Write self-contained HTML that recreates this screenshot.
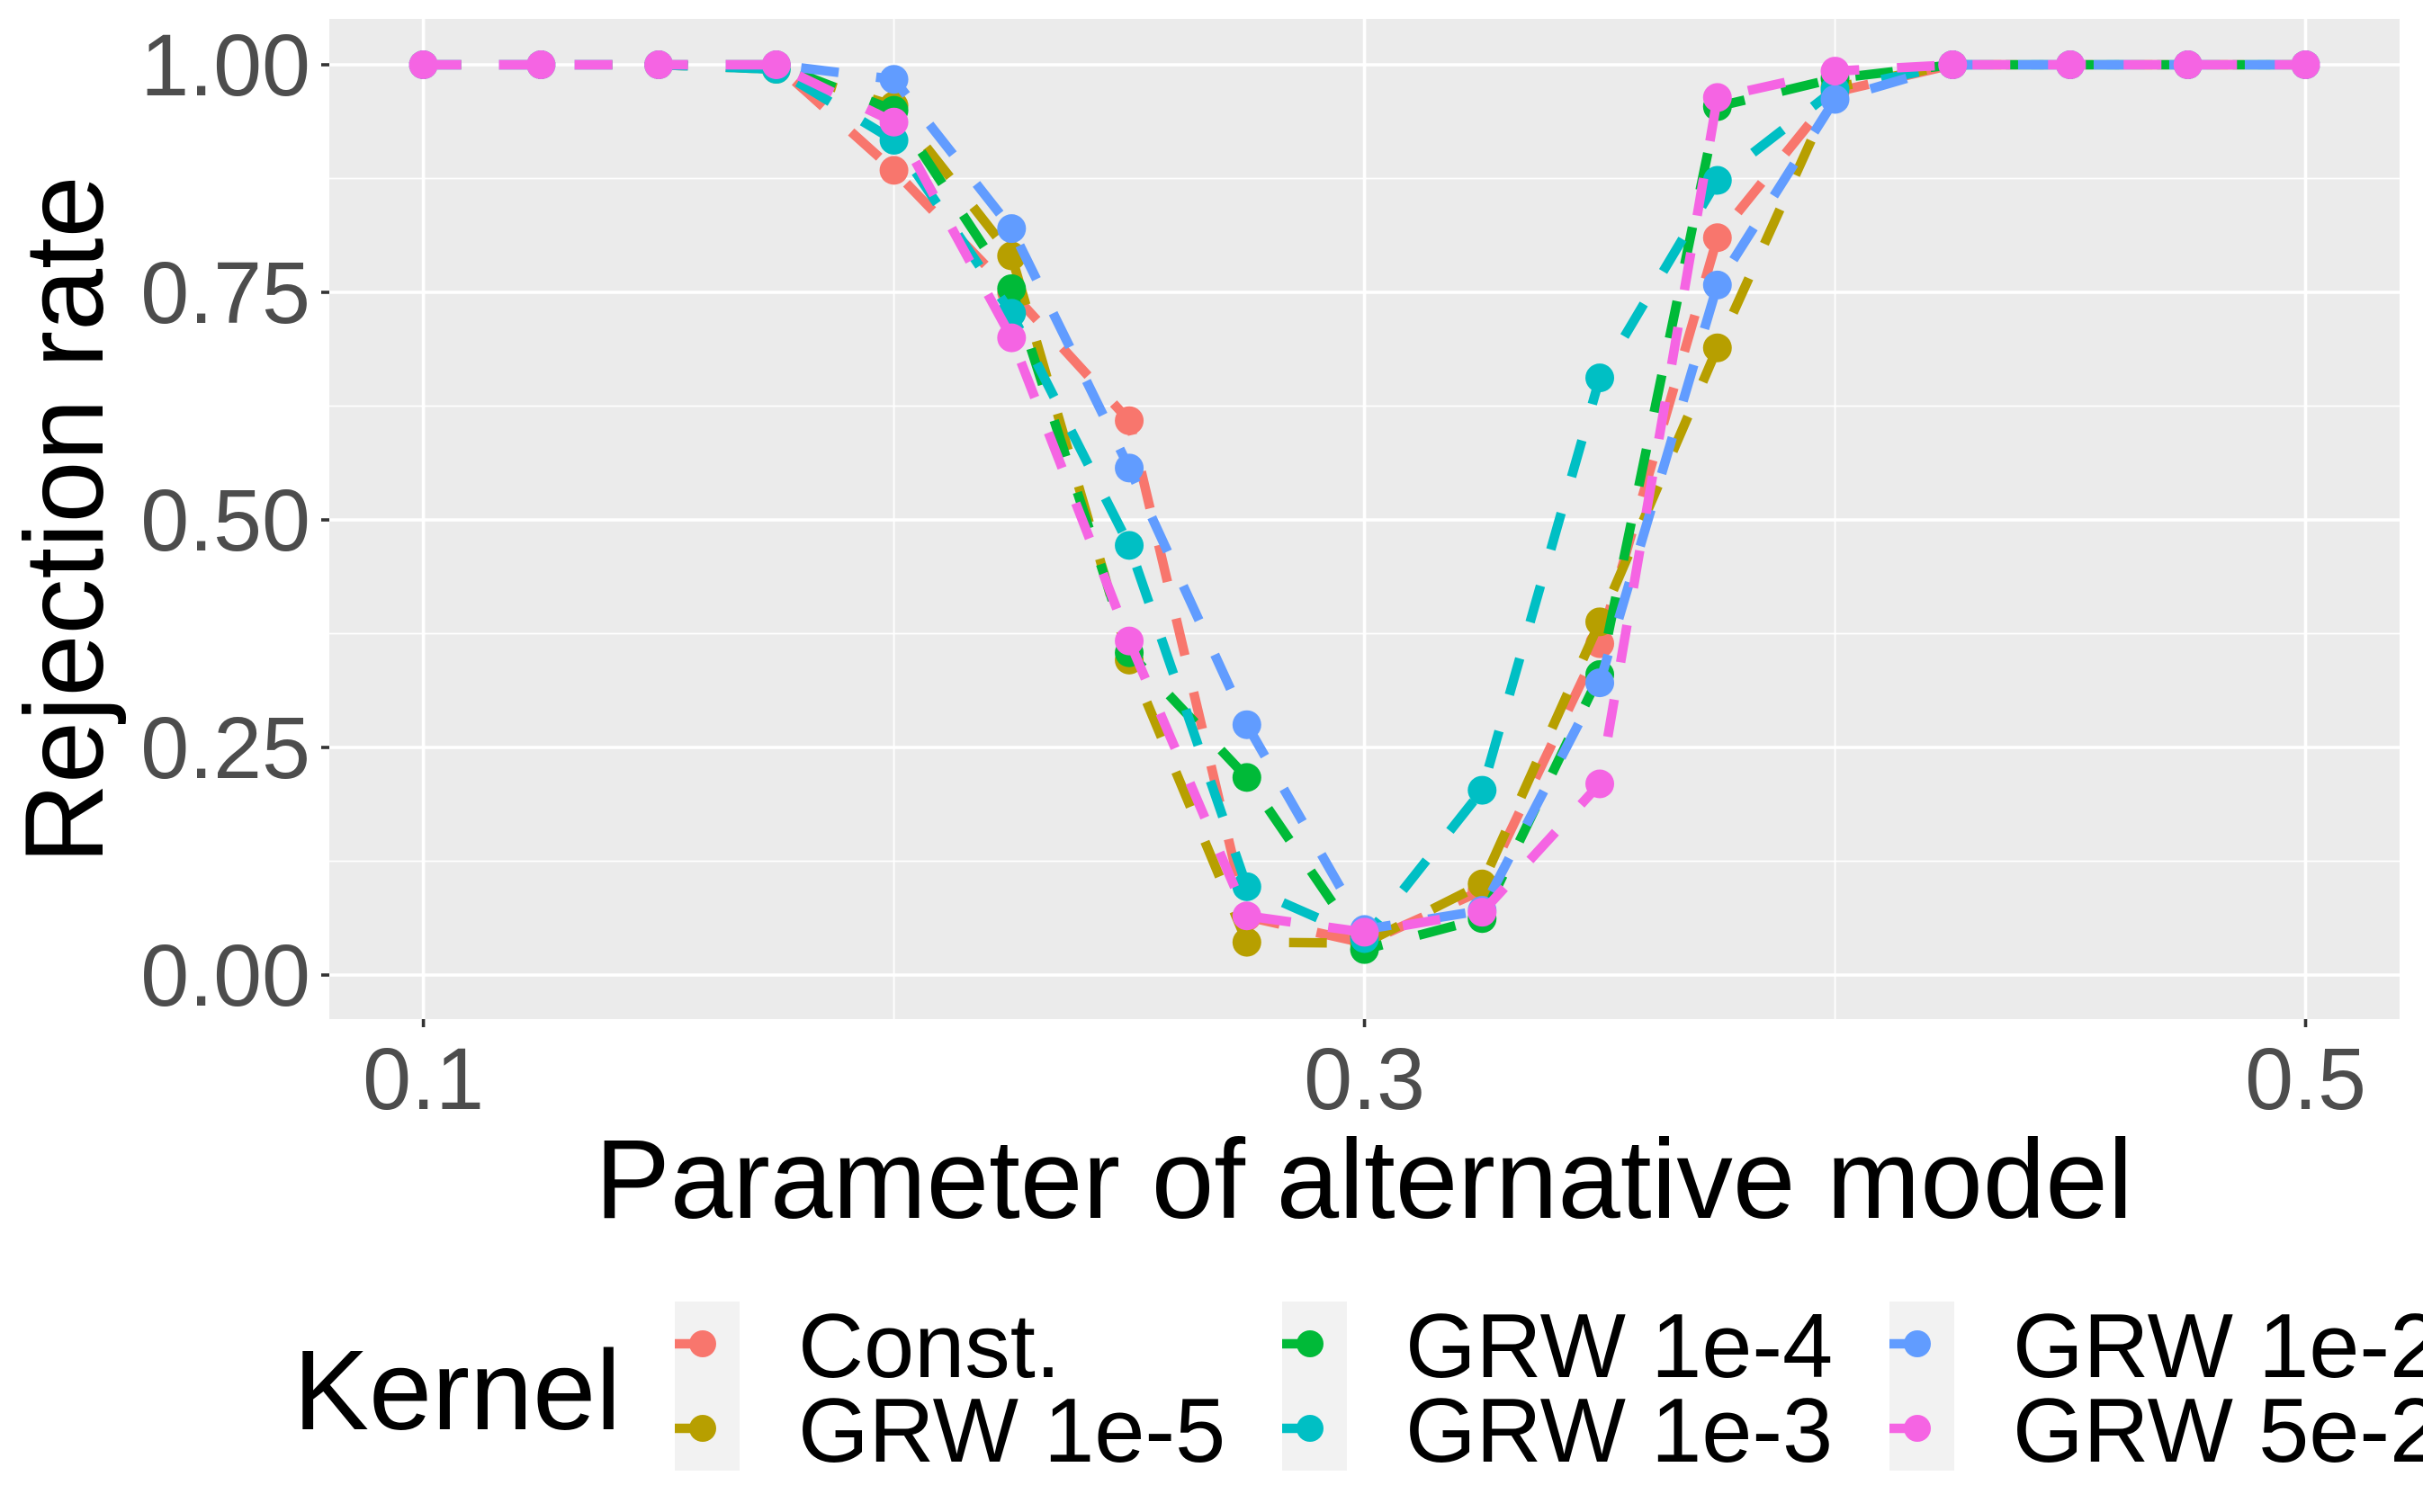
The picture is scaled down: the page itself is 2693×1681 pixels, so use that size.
<!DOCTYPE html>
<html><head><meta charset="utf-8"><style>
html,body{margin:0;padding:0;background:#fff;}
svg{display:block;font-family:"Liberation Sans",Arial,sans-serif;}
</style></head><body>
<svg id="chart" width="2693" height="1681" viewBox="0 0 2693 1681" xmlns="http://www.w3.org/2000/svg">
<rect x="366" y="21" width="2301" height="1112" fill="#EBEBEB"/>
<g id="grid"></g>
<g id="series"></g>
<g id="axes"></g>
<text x="1516" y="1354" font-size="125" text-anchor="middle" fill="#000">Parameter of alternative model</text>
<text transform="translate(114,578) rotate(-90)" font-size="124" text-anchor="middle" fill="#000">Rejection rate</text>
<text x="326" y="1589" font-size="126" fill="#000">Kernel</text>
<g id="legend"></g>
</svg>
<script>
const xs = [0.1,0.125,0.15,0.175,0.2,0.225,0.25,0.275,0.3,0.325,0.35,0.375,0.4,0.425,0.45,0.475,0.5];
const seriesNames = ["Const.","GRW 1e-5","GRW 1e-4","GRW 1e-3","GRW 1e-2","GRW 5e-2"];
const seriesColors = ["#F8766D","#B79F00","#00BA38","#00BFC4","#619CFF","#F564E3"];
const constVals = [1,1,1,1,0.884,0.75,0.609,0.064,0.035,0.093,0.364,0.81,0.97,1,1,1,1];
const grw1e5Vals = [1,1,1,0.995,0.955,0.79,0.346,0.036,0.035,0.1,0.388,0.689,0.975,1,1,1,1];
const grw1e4Vals = [1,1,1,1,0.95,0.754,0.354,0.217,0.028,0.062,0.33,0.954,0.985,1,1,1,1];
const grw1e3Vals = [1,1,1,0.995,0.917,0.727,0.472,0.097,0.04,0.203,0.656,0.873,0.973,1,1,1,1];
const grw1e2Vals = [1,1,1,1,0.984,0.82,0.557,0.275,0.05,0.071,0.321,0.758,0.962,1,1,1,1];
const grw5e2Vals = [1,1,1,1,0.937,0.7,0.367,0.065,0.047,0.069,0.21,0.964,0.993,1,1,1,1];
const yTicks = [0,0.25,0.5,0.75,1];
const yTickLabels = ["0.00","0.25","0.50","0.75","1.00"];
const xTicks = [0.1,0.3,0.5];
const xTickLabels = ["0.1","0.3","0.5"];
const yMinor = [0.125,0.375,0.625,0.875];
const xMinor = [0.2,0.4];

const NS="http://www.w3.org/2000/svg";
const X = v => 470.6 + (v-0.1)/0.4*(2562.5-470.6);
const Y = v => 1084 - v*(1084-72);
function mk(tag, attrs, parent){const e=document.createElementNS(NS,tag);for(const k in attrs)e.setAttribute(k,attrs[k]);parent.appendChild(e);return e;}
const grid=document.getElementById('grid'), axes=document.getElementById('axes'), ser=document.getElementById('series'), leg=document.getElementById('legend');
yMinor.forEach(v=>{const l=mk('line',{x1:366,x2:2667,y1:Y(v),y2:Y(v),stroke:'#fff','stroke-width':1.8},grid);

});
xMinor.forEach(v=>{const l=mk('line',{x1:X(v),x2:X(v),y1:21,y2:1133,stroke:'#fff','stroke-width':1.8},grid);

});
yTicks.forEach((v,i)=>{const l=mk('line',{x1:366,x2:2667,y1:Y(v),y2:Y(v),stroke:'#fff','stroke-width':3.6},grid);


const t=mk('line',{x1:357,x2:366,y1:Y(v),y2:Y(v),stroke:'#333','stroke-width':3.6},axes);


const tx=mk('text',{x:345,y:Y(v)+34,'font-size':97,'text-anchor':'end',fill:'#4D4D4D'},axes);tx.textContent=yTickLabels[i];

});
xTicks.forEach((v,i)=>{const l=mk('line',{x1:X(v),x2:X(v),y1:21,y2:1133,stroke:'#fff','stroke-width':3.6},grid);


const t=mk('line',{x1:X(v),x2:X(v),y1:1133,y2:1142,stroke:'#333','stroke-width':3.6},axes);


const tx=mk('text',{x:X(v),y:1233,'font-size':97,'text-anchor':'middle',fill:'#4D4D4D'},axes);tx.textContent=xTickLabels[i];

});
const allVals=[constVals,grw1e5Vals,grw1e4Vals,grw1e3Vals,grw1e2Vals,grw5e2Vals];
allVals.forEach((vals,si)=>{
  const g=mk('g',{},ser);
  
  
  const pts=vals.map((v,i)=>X(xs[i])+','+Y(v)).join(' ');
  const pl=mk('polyline',{points:pts,fill:'none',stroke:seriesColors[si],'stroke-width':10.5,'stroke-dasharray':'42 42'},g);
  
  
  vals.forEach((v,i)=>{const c=mk('circle',{cx:X(xs[i]),cy:Y(v),r:16,fill:seriesColors[si]},g);
  
  });
});
const colX=[750,1425,2100], rowY=[1494,1588];
seriesNames.forEach((n,i)=>{
  const col=Math.floor(i/2), row=i%2;
  const g=mk('g',{},leg);
  
  
  const b=mk('rect',{x:colX[col],y:rowY[row]-47,width:72,height:94,fill:'#F2F2F2'},g);
  
  
  const l=mk('line',{x1:colX[col],x2:colX[col]+30,y1:rowY[row],y2:rowY[row],stroke:seriesColors[i],'stroke-width':10.5},g);
  
  
  const c=mk('circle',{cx:colX[col]+31,cy:rowY[row],r:15,fill:seriesColors[i]},g);
  
  
  const t=mk('text',{x:colX[col]+137,y:rowY[row]+37,'font-size':101,fill:'#000'},g);t.textContent=n;
  
  
});
</script>
</body></html>
